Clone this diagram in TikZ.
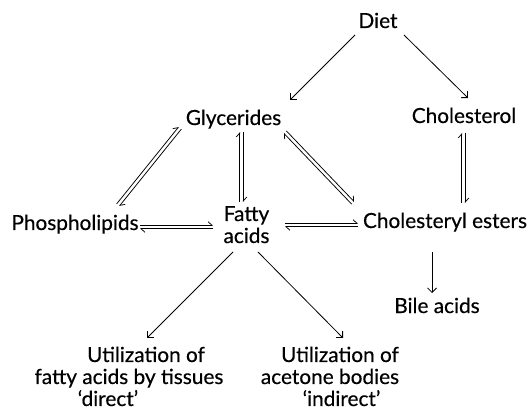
\documentclass[tikz,border=0pt]{standalone}
\usepackage{fontspec}
\setmainfont{Lato}[FakeBold=0.4]
\usetikzlibrary{arrows.meta,calc}
\newcommand\eqarr[2]{%
  \draw[eqline] ($(#1)!1.75pt!90:(#2)$) -- ($(#2)!1.75pt!-90:(#1)$);
  \draw[eqline] ($(#2)!1.75pt!90:(#1)$) -- ($(#1)!1.75pt!-90:(#2)$);
}
\begin{document}
\begin{tikzpicture}[x=1pt,y=-1pt,
  lbl/.style={inner sep=0pt,anchor=base,font=\fontsize{20.8}{22}\selectfont},
  arr/.style={line width=0.8pt,-{Straight Barb[length=4.5pt,width=9pt]}},
  eqline/.style={line width=0.75pt,-{Straight Barb[harpoon,length=4pt,width=7pt]}}]
\useasboundingbox[fill=white] (0,0) rectangle (531,409);
% nodes (base anchor = baseline of the last line)
\node[lbl] (diet) at (378,28) {Diet};
\node[lbl] (gly)  at (233.5,125) {Glycerides};
\node[lbl] (chol) at (464,123) {Cholesterol};
\node[lbl] (pho)  at (75,230) {Phospholipids};
\node[lbl,align=center] (fat) at (246.5,243) {Fatty\\acids};
\node[lbl] (che)  at (445,228) {Cholesteryl esters};
\node[lbl] (bile) at (437,313) {Bile acids};
\node[lbl,align=center] (u1) at (129,406)
  {\hspace*{34pt}Utilization of\\fatty acids by tissues\\‘direct’\hspace*{42pt}};
\node[lbl,align=center] (u2) at (330,406)
  {\hspace*{20pt}Utilization of\\acetone bodies\\\hspace*{23pt}‘indirect’};
% endpoints
\coordinate (a1) at ($(gly.base)+(-53.5,3)$);
\coordinate (b1) at ($(pho.base)+(43,-25)$);
\coordinate (a2) at ($(gly.base)+(8,7)$);
\coordinate (b2) at ($(fat.base)+(-5,-41)$);
\coordinate (a3) at ($(gly.base)+(51.5,7)$);
\coordinate (b3) at ($(che.base)+(-92,-25)$);
\coordinate (a4) at ($(chol.base)+(-0.5,10)$);
\coordinate (b4) at ($(che.base)+(18.5,-25)$);
\coordinate (a5) at ($(pho.base)+(65,-3)$);
\coordinate (b5) at ($(fat.base)+(-33.5,-16)$);
\coordinate (a6) at ($(fat.base)+(38.5,-18)$);
\coordinate (b6) at ($(che.base)+(-87,-3)$);
% simple arrows
\draw[arr] ($(diet.base)+(-23,7)$) -- ($(gly.base)+(56.5,-25)$);
\draw[arr] ($(diet.base)+(26,7)$) -- ($(chol.base)+(4,-25)$);
\draw[arr] ($(che.base)+(-13,24)$) -- ($(bile.base)+(-5,-20)$);
\draw[arr] ($(fat.base)+(-13.5,9)$) -- ($(u1.base)+(18,-68)$);
\draw[arr] ($(fat.base)+(11.5,9)$) -- ($(u2.base)+(13,-68)$);
% equilibrium arrows
\eqarr{a1}{b1}
\eqarr{a2}{b2}
\eqarr{a3}{b3}
\eqarr{a4}{b4}
\eqarr{a5}{b5}
\eqarr{a6}{b6}
\end{tikzpicture}
\end{document}
